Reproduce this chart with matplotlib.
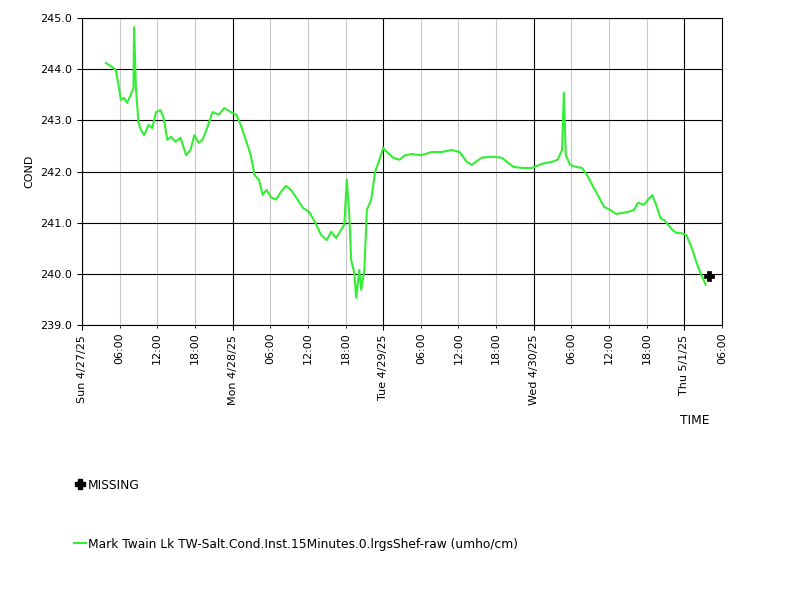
import datetime as dt
import numpy as np
import matplotlib
matplotlib.use("Agg")
import matplotlib.pyplot as plt

start = dt.datetime(2025, 4, 27)
hours = [3.8, 4.8, 5.4, 5.9, 6.2, 6.7, 7.2, 7.7, 8.2, 8.3, 8.6, 9.0, 9.4, 9.9, 10.6, 11.2, 11.8,
         12.5, 13.0, 13.6, 14.2, 14.9, 15.7, 16.6, 17.3, 17.9, 18.6, 19.2, 20.0, 20.8, 21.8, 22.7,
         23.7, 24.6, 25.3, 26.1, 26.9, 27.5, 28.2, 28.8, 29.4, 30.1, 30.9, 31.7, 32.5, 33.3, 34.2,
         35.2, 36.2, 37.1, 38.1, 39.0, 39.7, 40.5, 41.3, 41.8, 42.2, 42.6, 42.9, 43.4, 43.7, 44.2,
         44.5, 45.0, 45.4, 46.1, 46.7, 47.4, 48.0, 48.6, 49.6, 50.6, 51.5, 52.5, 54.1, 55.7, 57.3,
         58.9, 60.2, 61.3, 62.1, 63.7, 65.3, 66.9, 67.7, 68.8, 70.1, 71.7, 73.3, 74.9, 75.8, 76.5,
         76.8, 77.1, 77.8, 78.7, 79.7, 80.5, 81.3, 82.2, 83.2, 84.2, 85.1, 86.1, 87.0, 88.0, 88.6,
         89.6, 90.2, 90.9, 91.5, 92.2, 92.8, 93.4, 94.1, 94.7, 95.4, 96.3, 97.3, 97.9, 98.9, 99.4]
cond = [244.12, 244.04, 243.98, 243.63, 243.40, 243.44, 243.34, 243.48, 243.63, 244.82, 243.63,
        242.95, 242.81, 242.71, 242.91, 242.85, 243.16, 243.20, 243.05, 242.62, 242.68, 242.58,
        242.66, 242.32, 242.42, 242.71, 242.56, 242.62, 242.87, 243.16, 243.11, 243.24, 243.16,
        243.11, 242.91, 242.62, 242.32, 241.93, 241.84, 241.54, 241.64, 241.50, 241.45, 241.60,
        241.72, 241.64, 241.48, 241.29, 241.21, 241.02, 240.76, 240.66, 240.82, 240.70, 240.86,
        240.96, 241.84, 241.15, 240.27, 240.02, 239.53, 240.08, 239.69, 240.08, 241.25, 241.45,
        241.99, 242.23, 242.46, 242.38, 242.27, 242.23, 242.32, 242.34, 242.32, 242.38, 242.38,
        242.42, 242.38, 242.19, 242.13, 242.27, 242.29, 242.27, 242.19, 242.09, 242.07, 242.07,
        242.15, 242.19, 242.23, 242.42, 243.54, 242.32, 242.13, 242.09, 242.07, 241.93, 241.74,
        241.54, 241.31, 241.25, 241.17, 241.19, 241.21, 241.25, 241.39, 241.35, 241.45, 241.54,
        241.35, 241.09, 241.05, 240.96, 240.86, 240.80, 240.80, 240.76, 240.47, 240.23, 239.92,
        239.79]
missing_hours = [100.0]
missing_vals = [239.95]

t = [start + dt.timedelta(hours=h) for h in hours]
tm = [start + dt.timedelta(hours=h) for h in missing_hours]

fig = plt.figure(figsize=(8, 6), dpi=100)
ax = fig.add_axes([0.1025, 0.4583, 0.8, 0.5117])
ax.plot(t, cond, color="#33ee33", lw=1.5)
ax.plot(tm, missing_vals, "P", color="black", ms=7, mec="black", mew=0.5)

ax.set_xlim(start, start + dt.timedelta(hours=102))
ax.set_ylim(239, 245)
ax.set_yticks(np.arange(239, 245.1, 1))
ax.yaxis.set_major_formatter(matplotlib.ticker.FormatStrFormatter("%.1f"))

days = [start + dt.timedelta(days=d) for d in range(5)]
six = [start + dt.timedelta(hours=h) for h in range(6, 103, 6) if h % 24]
ax.set_xticks(days)
ax.set_xticklabels([d.strftime("%a %-m/%-d/%y") for d in days], rotation=90, fontsize=8)
ax.set_xticks(six, minor=True)
ax.set_xticklabels([d.strftime("%H:%M") for d in six], minor=True, rotation=90, fontsize=8)
ax.tick_params(axis="y", labelsize=8)
ax.grid(True, which="major", color="black", lw=0.8)
ax.grid(True, which="minor", axis="x", color="#c8c8c8", lw=0.8)
ax.set_axisbelow(True)
ax.set_ylabel("COND", fontsize=8)
fig.text(0.868, 0.293, "TIME", fontsize=8.8, ha="center")

fig.lines.append(plt.Line2D([0.1], [0.193], marker="P", color="black", ms=7,
                            transform=fig.transFigure))
fig.text(0.11, 0.185, "MISSING", fontsize=8.8)
fig.lines.append(plt.Line2D([0.093, 0.108], [0.095, 0.095], color="#33ee33", lw=1.5,
                            transform=fig.transFigure))
fig.text(0.11, 0.087, "Mark Twain Lk TW-Salt.Cond.Inst.15Minutes.0.lrgsShef-raw (umho/cm)", fontsize=8.8)

fig.savefig("out.png", dpi=100)
